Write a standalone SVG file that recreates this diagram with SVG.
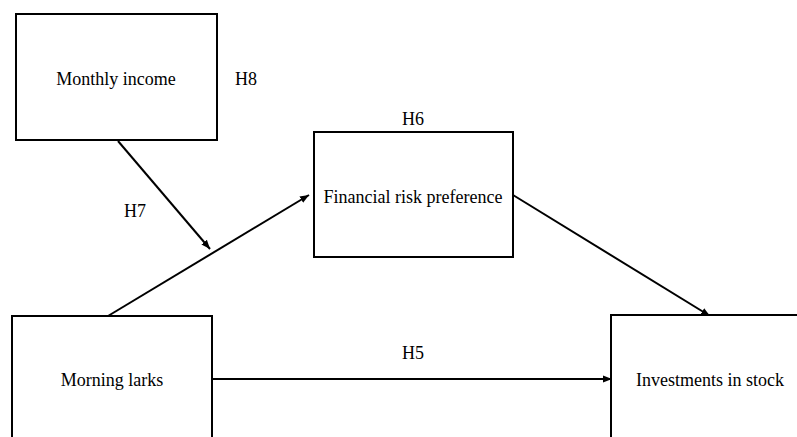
<svg xmlns="http://www.w3.org/2000/svg" width="797" height="437" viewBox="0 0 797 437">
<defs>
<style>
.box{fill:#fff;stroke:#000;stroke-width:2}
.t{font-family:"Liberation Serif","Times New Roman",serif;font-size:18px;fill:#000;text-anchor:middle;dominant-baseline:central}
.c{stroke:#000;stroke-width:2;fill:none;marker-end:url(#ah)}
</style>
<marker id="ah" viewBox="0 0 10 10" refX="10" refY="5" markerWidth="9" markerHeight="9" markerUnits="userSpaceOnUse" orient="auto">
<path d="M0,1 L10,5 L0,9 z" fill="#000"/>
</marker>
</defs>
<rect width="797" height="437" fill="#fff"/>
<g id="connectors">
<line class="c" x1="118" y1="141" x2="210" y2="249"/>
<line class="c" x1="108" y1="316" x2="309" y2="195"/>
<line class="c" x1="513" y1="195" x2="710" y2="316"/>
<line class="c" x1="213" y1="379" x2="612" y2="379"/>
</g>
<g id="monthly-income">
<rect class="box" x="16" y="14" width="201" height="126"/>
<text class="t" x="116" y="79">Monthly income</text>
</g>
<g id="financial-risk">
<rect class="box" x="314" y="132" width="199" height="125"/>
<text class="t" x="413" y="197">Financial risk preference</text>
</g>
<g id="morning-larks">
<rect class="box" x="12" y="316" width="200" height="130"/>
<text class="t" x="112" y="380">Morning larks</text>
</g>
<g id="investments">
<rect class="box" x="611" y="315" width="200" height="130"/>
<text class="t" x="710" y="380">Investments in stock</text>
</g>
<g id="labels">
<text class="t" x="246" y="79">H8</text>
<text class="t" x="413" y="119">H6</text>
<text class="t" x="135" y="211">H7</text>
<text class="t" x="413" y="353">H5</text>
</g>
</svg>
